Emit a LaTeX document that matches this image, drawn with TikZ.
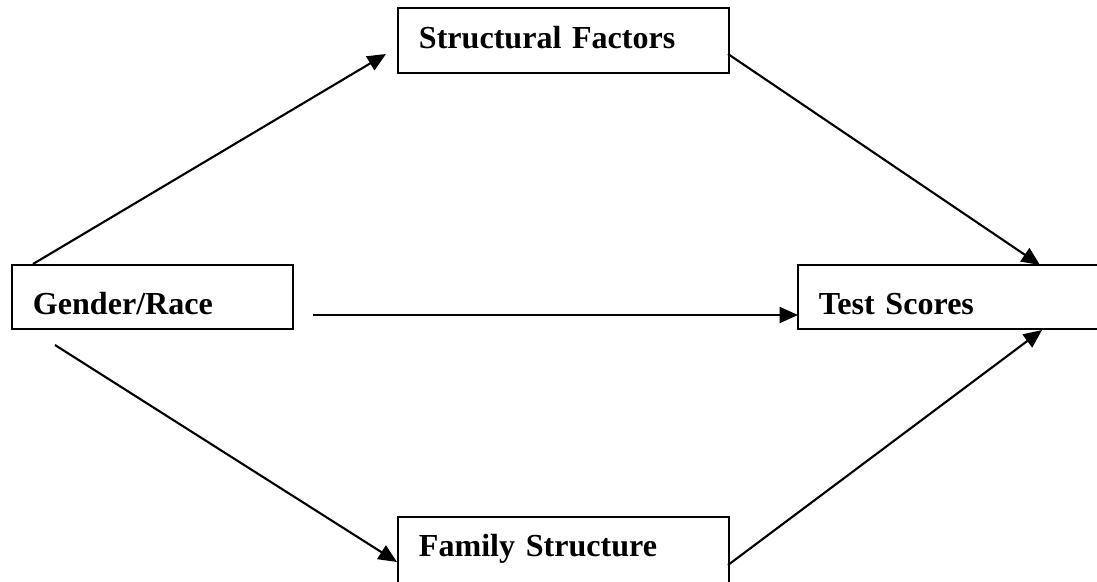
\documentclass[tikz,border=0pt]{standalone}
\usepackage{fontspec}
\setmainfont{Liberation Serif}
\usetikzlibrary{arrows.meta}

\begin{document}
\begin{tikzpicture}[x=0.025cm, y=-0.025cm,
    box/.style={draw, line width=1.5pt, inner xsep=0.525cm, align=left,
        font=\fontsize{22.8}{27}\selectfont\bfseries},
    link/.style={line width=1.5pt, -{Triangle[length=0.46cm,width=0.4cm]}}]
    \clip (0,0) rectangle (1097,581);
    \useasboundingbox (0,0) rectangle (1097,581);
    % boxes
    \node[box, text width=7.225cm, minimum height=1.625cm, text height=0.475cm, text depth=0.1cm] (sf) at (563.5,40.5) {Structural Factors};
    \node[box, text width=5.975cm, minimum height=1.6cm, text height=0.95cm, text depth=0.1cm] (gr) at (152.5,297) {Gender/Race};
    \node[box, text width=6.95cm, minimum height=1.6cm, text height=0.95cm, text depth=0.1cm] (ts) at (958,297) {Test Scores};
    \node[box, text width=7.225cm, minimum height=1.825cm, text height=0.3cm, text depth=0.175cm] (fs) at (563.5,553.5) {Family Structure};
    % arrow ends
    \coordinate (grN) at (33,264);
    \coordinate (grE) at (313,315);
    \coordinate (grS) at (55,345);
    \coordinate (sfW) at (386,54);
    \coordinate (sfE) at (728,54);
    \coordinate (fsW) at (397,562);
    \coordinate (fsE) at (728,565);
    \coordinate (tsN) at (1040,265);
    \coordinate (tsW) at (798,315);
    \coordinate (tsS) at (1042,330);
    % arrows
    \draw[link] (grN) -- (sfW);
    \draw[link] (grE) -- (tsW);
    \draw[link] (grS) -- (fsW);
    \draw[link] (sfE) -- (tsN);
    \draw[link] (fsE) -- (tsS);
\end{tikzpicture}
\end{document}
